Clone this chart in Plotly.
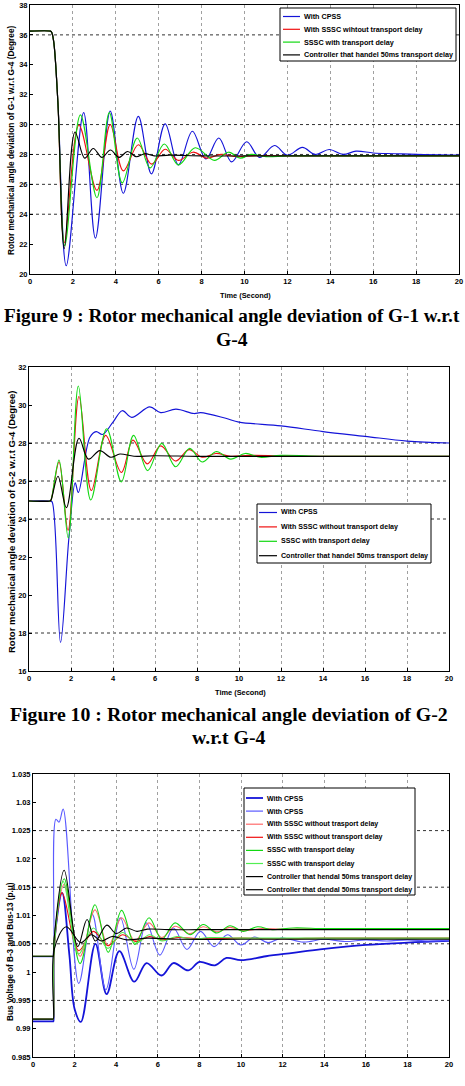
import plotly.graph_objects as go

# ---------------- Figure 9 data (G-1 w.r.t G-4) ----------------
f9_cpss_t = [0, 0.95, 1.0, 1.1, 1.3, 1.69, 2.5, 3.05, 3.74, 4.35, 5.05, 5.66, 6.3, 6.92, 7.57, 8.2, 8.8, 9.4, 10.1, 10.7, 11.4, 12.0, 12.7, 13.3, 13.95, 14.6, 15.2, 16.0, 17.0, 18.0, 20.0]
f9_cpss_v = [36.25, 36.25, 36.2, 35.6, 31.5, 20.55, 30.8, 22.4, 30.9, 25.4, 30.55, 26.7, 30.05, 27.3, 29.55, 27.7, 29.1, 27.5, 28.85, 27.8, 28.6, 27.95, 28.47, 28.0, 28.33, 28.0, 28.22, 28.1, 28.05, 28.0, 27.95]
f9_sssc_t = [0, 0.95, 1.0, 1.1, 1.3, 1.6, 2.28, 3.12, 3.74, 4.35, 5.05, 5.67, 6.3, 6.92, 7.6, 8.25, 8.9, 9.6, 10.5, 12, 14, 16, 18, 20]
f9_sssc_v = [36.25, 36.25, 36.2, 35.6, 31.5, 22.1, 29.95, 25.6, 30.0, 26.9, 28.65, 27.35, 28.35, 27.6, 28.15, 27.75, 28.0, 27.85, 27.92, 27.9, 27.9, 27.9, 27.9, 27.9]
f9_delay_t = [0, 0.95, 1.0, 1.1, 1.3, 1.62, 2.35, 3.12, 3.7, 4.3, 5.0, 5.6, 6.26, 6.92, 7.7, 8.6, 9.25, 9.8, 10.3, 11, 12, 14, 16, 18, 20]
f9_delay_v = [36.25, 36.25, 36.2, 35.6, 31.5, 21.9, 30.65, 25.1, 30.8, 26.1, 29.1, 27.1, 28.7, 27.3, 28.45, 27.6, 28.15, 27.75, 28.0, 27.85, 27.9, 27.9, 27.9, 27.9, 27.9]
f9_ctrl_t = [0, 0.95, 1.0, 1.1, 1.3, 1.6, 2.1, 2.55, 2.95, 3.35, 3.75, 4.15, 4.55, 4.95, 5.35, 5.8, 6.5, 8, 10, 12, 14, 16, 18, 20]
f9_ctrl_v = [36.25, 36.25, 36.2, 35.6, 31.5, 21.7, 29.5, 27.75, 28.4, 27.8, 28.3, 27.8, 28.2, 27.85, 28.05, 27.9, 27.95, 27.9, 27.9, 27.9, 27.9, 27.9, 27.9, 27.9]

# ---------------- Figure 10 data (G-2 w.r.t G-4) ----------------
f10_cpss_t = [0, 1.0, 1.1, 1.5, 1.9, 2.2, 2.35, 2.9, 3.2, 3.5, 4.0, 4.44, 4.89, 5.75, 6.27, 7.0, 7.86, 8.17, 9.37, 10, 12, 14, 16, 18, 20]
f10_cpss_v = [24.95, 24.95, 24.9, 17.5, 23.0, 25.9, 25.4, 28.3, 28.6, 28.45, 29.1, 29.7, 29.35, 29.9, 29.6, 29.78, 29.55, 29.6, 29.3, 29.1, 28.9, 28.6, 28.35, 28.1, 28.0]
f10_sssc_t = [0, 1.0, 1.05, 1.43, 1.86, 2.38, 2.97, 3.65, 4.4, 4.95, 5.63, 6.27, 6.98, 7.62, 8.25, 8.9, 9.6, 10.5, 12, 14, 16, 18, 20]
f10_sssc_v = [24.95, 24.95, 25.0, 27.0, 23.4, 30.45, 25.5, 28.4, 26.45, 28.15, 26.9, 27.85, 27.05, 27.65, 27.25, 27.45, 27.3, 27.35, 27.32, 27.3, 27.3, 27.3, 27.3]
f10_delay_t = [0, 1.0, 1.05, 1.43, 1.87, 2.35, 2.94, 3.7, 4.4, 4.98, 5.65, 6.32, 6.98, 7.65, 8.25, 8.92, 9.6, 10.3, 11, 12, 14, 16, 18, 20]
f10_delay_v = [24.95, 24.95, 25.0, 27.1, 23.0, 31.0, 25.0, 28.75, 25.95, 28.4, 26.55, 27.98, 26.75, 27.72, 27.0, 27.55, 27.15, 27.45, 27.25, 27.35, 27.3, 27.3, 27.3, 27.3]
f10_ctrl_t = [0, 1.0, 1.05, 1.38, 1.78, 2.38, 2.83, 3.37, 3.9, 4.33, 5.0, 6, 8, 10, 12, 14, 16, 18, 20]
f10_ctrl_v = [24.95, 24.95, 25.0, 26.25, 24.6, 28.25, 27.15, 27.6, 27.25, 27.42, 27.3, 27.33, 27.3, 27.3, 27.3, 27.3, 27.3, 27.3, 27.3]

# ---------------- Figure 11 data (bus voltages, p.u) ----------------
f11_cpss_a_t = [0, 0.96, 0.98, 1.02, 1.4, 1.75, 2.0, 2.3, 3.0, 3.54, 4.15, 4.87, 5.46, 6.18, 6.75, 7.47, 8.0, 8.75, 9.3, 10.0, 11.2, 12.5, 13.8, 16, 18, 20]
f11_cpss_a_v = [0.9913, 0.9913, 0.9913, 1.005, 1.014, 1.003, 0.9935, 0.9912, 1.005, 0.9961, 1.0037, 0.9983, 1.0016, 0.9994, 1.0016, 1.0003, 1.0018, 1.0012, 1.0025, 1.0021, 1.0028, 1.0034, 1.004, 1.0048, 1.0052, 1.0055]
f11_cpss_b_t = [0, 0.96, 0.98, 1.1, 1.25, 1.45, 2.2, 2.85, 3.5, 4.2, 4.85, 5.45, 6.1, 6.75, 7.4, 8.05, 8.7, 9.35, 10.0, 10.65, 11.3, 11.95, 13, 14, 15, 16, 17, 18, 19, 20]
f11_cpss_b_v = [1.0027, 1.0027, 1.0027, 1.027, 1.0265, 1.0288, 0.998, 1.0102, 0.9969, 1.0096, 1.0005, 1.0087, 1.003, 1.0078, 1.004, 1.0072, 1.0045, 1.0066, 1.0048, 1.0062, 1.0052, 1.006, 1.0053, 1.0058, 1.0054, 1.0057, 1.0055, 1.0057, 1.0055, 1.0056]
f11_sssc_a_t = [0, 0.96, 0.98, 1.02, 1.5, 2.26, 2.98, 3.62, 4.26, 4.9, 5.58, 6.19, 6.83, 7.55, 8.19, 8.83, 9.47, 10.1, 11, 12, 14, 16, 18, 20]
f11_sssc_a_v = [1.0028, 1.0028, 1.0028, 1.006, 1.0155, 1.0028, 1.011, 1.0046, 1.0096, 1.0055, 1.0087, 1.0061, 1.0081, 1.0068, 1.008, 1.0071, 1.0079, 1.0073, 1.0077, 1.0076, 1.0077, 1.0077, 1.0077, 1.0077]
f11_sssc_b_t = [0, 0.96, 0.98, 1.02, 1.4, 2.2, 2.9, 3.6, 4.3, 4.95, 5.6, 6.2, 7.0, 8.0, 10, 12, 14, 16, 18, 20]
f11_sssc_b_v = [0.9917, 0.9917, 0.9917, 1.004, 1.014, 1.0038, 1.0072, 1.0047, 1.0066, 1.0054, 1.0063, 1.0057, 1.0061, 1.0059, 1.006, 1.0059, 1.006, 1.006, 1.006, 1.006]
f11_delay_a_t = [0, 0.96, 0.98, 1.02, 1.5, 2.26, 2.98, 3.62, 4.26, 4.9, 5.58, 6.19, 6.83, 7.55, 8.19, 8.83, 9.47, 10.1, 10.8, 11.5, 12.5, 14, 16, 18, 20]
f11_delay_a_v = [1.0028, 1.0028, 1.0028, 1.006, 1.0165, 1.0015, 1.0119, 1.0035, 1.0109, 1.0049, 1.0096, 1.0058, 1.0087, 1.0066, 1.0084, 1.0069, 1.0082, 1.0072, 1.008, 1.0075, 1.0078, 1.0077, 1.0077, 1.0077, 1.0077]
f11_delay_b_t = [0, 0.96, 0.98, 1.02, 1.45, 2.2, 2.9, 3.6, 4.3, 4.95, 5.6, 6.2, 6.9, 7.6, 8.5, 10, 12, 14, 16, 18, 20]
f11_delay_b_v = [0.9917, 0.9917, 0.9917, 1.004, 1.016, 1.0032, 1.0078, 1.0042, 1.007, 1.0051, 1.0066, 1.0055, 1.0063, 1.0058, 1.0061, 1.006, 1.006, 1.006, 1.006, 1.006, 1.006]
f11_ctrl_a_t = [0, 0.96, 0.98, 1.02, 1.5, 2.15, 2.6, 3.0, 3.55, 4.0, 4.5, 5.0, 5.5, 6.5, 8, 10, 12, 14, 16, 18, 20]
f11_ctrl_a_v = [1.0028, 1.0028, 1.0028, 1.006, 1.018, 1.0045, 1.0093, 1.0055, 1.0083, 1.0068, 1.0078, 1.0072, 1.0076, 1.0075, 1.0075, 1.0075, 1.0075, 1.0075, 1.0075, 1.0075, 1.0075]
f11_ctrl_b_t = [0, 0.96, 0.98, 1.02, 1.6, 2.3, 2.8, 3.3, 3.8, 4.5, 5.5, 7, 10, 12, 14, 16, 18, 20]
f11_ctrl_b_v = [0.9917, 0.9917, 0.9917, 1.004, 1.008, 1.0052, 1.0066, 1.0055, 1.0063, 1.0057, 1.006, 1.0058, 1.0058, 1.0058, 1.0058, 1.0058, 1.0058, 1.0058]

# ---------------- ticks, grids, legend texts ----------------
x_ticks = [0, 2, 4, 6, 8, 10, 12, 14, 16, 18, 20]
f9_yticks = [20, 22, 24, 26, 28, 30, 32, 34, 36, 38]
f10_yticks = [16, 18, 20, 22, 24, 26, 28, 30, 32]
f11_yticks = [0.985, 0.99, 0.995, 1, 1.005, 1.01, 1.015, 1.02, 1.025, 1.03, 1.035]
f11_yticklabels = ["0.985", "0.99", "0.995", "1", "1.005", "1.01", "1.015", "1.02", "1.025", "1.03", "1.035"]
f9_ygrid = [24, 26, 28, 30, 36]
f10_ygrid = [18, 24, 26, 28]
f11_ygrid = [0.995, 1.005, 1.015, 1.025]

f9_names = ["With CPSS", "With SSSC wihtout transport delay", "SSSC with transport delay",
            "Controller that handel 50ms transport delay"]
f10_names = ["With CPSS", "With SSSC without transport delay", "SSSC with transport delay",
             "Controller that handel 50ms transport delay"]
f11_names = ["With CPSS", "With CPSS", "With SSSC without trasport delay",
             "With SSSC without transport delay", "SSSC with transport delay",
             "SSSC with transport delay", "Controller that hendal 50ms transport delay",
             "Controller that dendal 50ms transport delay"]

BLUE = "#1414d8"
LBLUE = "#5a5aff"
RED = "#f01010"
LRED = "#ff6a6a"
GREEN = "#12d812"
LGREEN = "#52ee52"
BLACK = "#000000"
f9_colors = [BLUE, RED, GREEN, BLACK]
f10_colors = [BLUE, RED, GREEN, BLACK]
f11_colors = [BLUE, LBLUE, LRED, RED, GREEN, LGREEN, BLACK, BLACK]
f11_widths = [1.8, 1.1, 1.1, 1.1, 1.1, 1.1, 1.1, 1.1]

SANS = "Liberation Sans, Arial, sans-serif"
SERIF = "Liberation Serif, Times New Roman, serif"

W, H = 465, 1086
fig = go.Figure()

def add(t, v, name, color, xa, ya, width=1.15):
    fig.add_trace(go.Scatter(
        x=t, y=v, mode="lines", name=name, showlegend=False,
        line=dict(color=color, width=width, shape="spline", smoothing=1.0),
        xaxis=xa, yaxis=ya))

f9_series = [(f9_cpss_t, f9_cpss_v), (f9_sssc_t, f9_sssc_v), (f9_delay_t, f9_delay_v), (f9_ctrl_t, f9_ctrl_v)]
for (t, v), n, c in zip(f9_series, f9_names, f9_colors):
    add(t, v, n, c, "x", "y")
f10_series = [(f10_cpss_t, f10_cpss_v), (f10_sssc_t, f10_sssc_v), (f10_delay_t, f10_delay_v), (f10_ctrl_t, f10_ctrl_v)]
for (t, v), n, c in zip(f10_series, f10_names, f10_colors):
    add(t, v, n, c, "x2", "y2")
f11_series = [(f11_cpss_a_t, f11_cpss_a_v), (f11_cpss_b_t, f11_cpss_b_v), (f11_sssc_a_t, f11_sssc_a_v),
              (f11_sssc_b_t, f11_sssc_b_v), (f11_delay_a_t, f11_delay_a_v), (f11_delay_b_t, f11_delay_b_v),
              (f11_ctrl_a_t, f11_ctrl_a_v), (f11_ctrl_b_t, f11_ctrl_b_v)]
for (t, v), n, c, w in zip(f11_series, f11_names, f11_colors, f11_widths):
    add(t, v, n, c, "x3", "y3", w)

def px(a, b):
    return [a / W, b / W]
def py(top, bottom):
    return [1 - bottom / H, 1 - top / H]

tickfont = dict(family=SANS, size=7.5, color="black", weight="bold")
common_x = dict(range=[0, 20], tickvals=x_ticks, showline=True, linecolor="black", linewidth=1,
                mirror=True, ticks="inside", ticklen=3, tickcolor="black", tickfont=tickfont,
                showgrid=True, gridcolor="#a0a0a0", griddash="dot", gridwidth=1, zeroline=False,
                automargin=False, fixedrange=True, ticklabeloverflow="allow")
common_y = dict(showline=True, linecolor="black", linewidth=1, mirror=True, ticks="inside",
                ticklen=3, tickcolor="black", tickfont=tickfont, showgrid=False, zeroline=False,
                automargin=False, fixedrange=True, ticklabeloverflow="allow")

fig.update_layout(
    width=W, height=H, margin=dict(l=0, r=0, t=0, b=0, autoexpand=False),
    paper_bgcolor="white", plot_bgcolor="white", showlegend=False,
    xaxis=dict(domain=px(30, 459), anchor="y", **common_x),
    yaxis=dict(domain=py(5, 274), anchor="x", range=[20, 38], tickvals=f9_yticks, **common_y),
    xaxis2=dict(domain=px(29, 449), anchor="y2", **common_x),
    yaxis2=dict(domain=py(367, 671), anchor="x2", range=[16, 32], tickvals=f10_yticks, **common_y),
    xaxis3=dict(domain=px(33, 449), anchor="y3", **common_x),
    yaxis3=dict(domain=py(774, 1057), anchor="x3", range=[0.985, 1.035], tickvals=f11_yticks,
                ticktext=f11_yticklabels, **common_y),
)

# horizontal grid lines (only the ones visible in the original)
for axn, vals in (("", f9_ygrid), ("2", f10_ygrid), ("3", f11_ygrid)):
    for v in vals:
        fig.add_shape(type="line", xref="x" + axn + " domain", yref="y" + axn, x0=0, x1=1, y0=v, y1=v,
                      line=dict(color="#333333", width=1, dash="dot"), layer="below")

# hand-drawn legends (compact rows like the MATLAB originals)
def draw_legend(names, colors, left, top, right, bottom, first_row, row_h, line_x0, line_x1,
                fsize, widths=None):
    legfont = dict(family=SANS, size=fsize, color="black", weight="bold")
    fig.add_shape(type="rect", xref="paper", yref="paper", x0=left / W, x1=right / W,
                  y0=1 - bottom / H, y1=1 - top / H, fillcolor="white",
                  line=dict(color="black", width=1), layer="above")
    for i, (n, c) in enumerate(zip(names, colors)):
        yc = first_row + i * row_h
        lw = widths[i] if widths else 1.2
        fig.add_shape(type="line", xref="paper", yref="paper", x0=line_x0 / W, x1=line_x1 / W,
                      y0=1 - yc / H, y1=1 - yc / H, line=dict(color=c, width=lw), layer="above")
        fig.add_annotation(text=n, x=(line_x1 + 1.5) / W, y=1 - yc / H, xref="paper", yref="paper",
                           showarrow=False, xanchor="left", yanchor="middle", font=legfont)

draw_legend(f9_names, f9_colors, 280, 8, 456, 61, 16.5, 12.8, 283, 300, 7.2)
draw_legend(f10_names, f10_colors, 257, 504, 431, 563, 512.5, 14.4, 259, 277, 7.1)
draw_legend(f11_names, f11_colors, 244, 788, 415, 895, 798, 13.1, 246, 263, 7.0, [1.8] + [1.2] * 7)

def ann(text, x, y, size, family, angle=0, bold=False):
    fig.add_annotation(text=text, x=x / W, y=1 - y / H, xref="paper", yref="paper",
                       showarrow=False, textangle=angle, xanchor="center", yanchor="middle",
                       font=dict(family=family, size=size, color="black",
                                 weight="bold" if bold else "normal"))

ann("Rotor mechanical angle deviation of G-1 w.r.t G-4 (Degree)", 11, 140, 8.3, SANS, -90, True)
ann("Time (Second)", 245, 296, 7.4, SANS, 0, True)
ann("Figure 9 : Rotor mechanical angle deviation of G-1 w.r.t", 232, 315, 19.2, SERIF, 0, True)
ann("G-4", 232, 339, 19.6, SERIF, 0, True)
ann("Rotor mechanical angle deviation of G-2 w.r.t G-4 (Degree)", 11, 522, 9.5, SANS, -90, True)
ann("Time (Second)", 240, 692, 7.4, SANS, 0, True)
ann("Figure 10 : Rotor mechanical angle deviation of G-2", 229, 714, 19.8, SERIF, 0, True)
ann("w.r.t G-4", 229, 737, 19.8, SERIF, 0, True)
ann("Bus Voltage of B-3 and Bus-13 (p.u)", 10, 952, 8.2, SANS, -90, True)

fig.write_html("out.html")
